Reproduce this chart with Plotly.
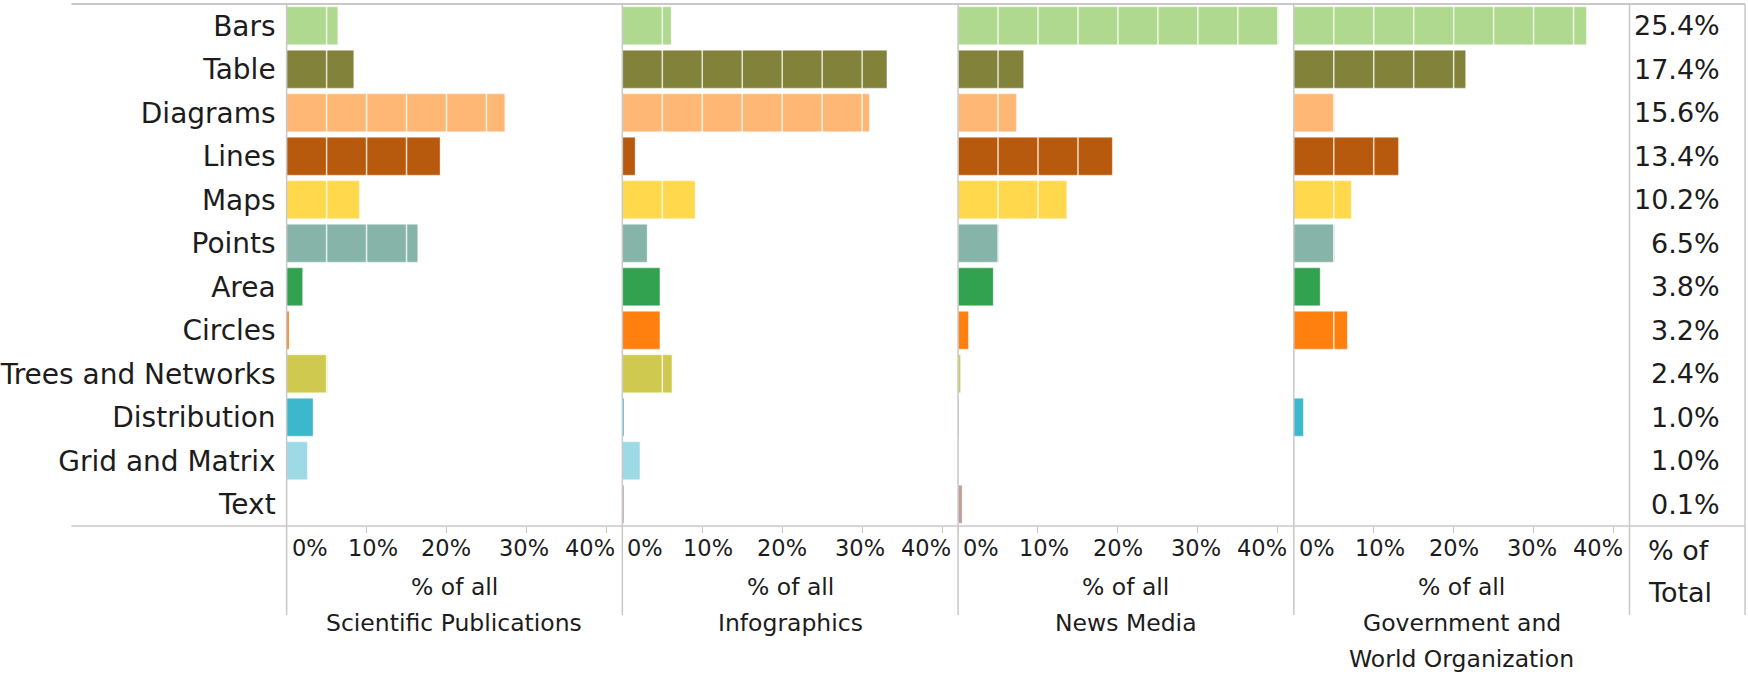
import plotly.graph_objects as go

categories = ["Bars", "Table", "Diagrams", "Lines", "Maps", "Points", "Area",
              "Circles", "Trees and Networks", "Distribution", "Grid and Matrix", "Text"]
colors = ["#aed98e", "#83823b", "#ffb775", "#b85a0d", "#ffd84c", "#86b4a9",
          "#32a251", "#ff7f0f", "#cfca4f", "#3cb7cc", "#9ddae5", "#c49c94"]

scientific = [6.4, 8.4, 27.3, 19.2, 9.1, 16.4, 2.0, 0.3, 5.1, 3.3, 2.6, 0.0]
infographics = [6.1, 33.1, 30.9, 1.6, 9.1, 3.1, 4.7, 4.7, 6.2, 0.2, 2.2, 0.2]
news_media = [40.1, 8.2, 7.3, 19.3, 13.6, 5.1, 4.4, 1.3, 0.3, 0.1, 0.0, 0.5]
government = [36.6, 21.5, 5.1, 13.1, 7.2, 5.1, 3.3, 6.7, 0.0, 1.2, 0.0, 0.0]
total_pct = [25.4, 17.4, 15.6, 13.4, 10.2, 6.5, 3.8, 3.2, 2.4, 1.0, 1.0, 0.1]

panel_titles = [["% of all", "Scientific Publications"],
                ["% of all", "Infographics"],
                ["% of all", "News Media"],
                ["% of all", "Government and", "World Organization"]]
tick_values = [0, 10, 20, 30, 40]
tick_text = ["0%", "10%", "20%", "30%", "40%"]
x_max = 42

W, H = 1748, 678
FONT = "DejaVu Sans"
TXT = "#1c1c1c"
GRID = "#c8c8c8"

def px(x):
    return x / W

def py(y):
    return 1 - y / H

panel_edges = [268, 608, 948, 1288, 1628]
y_top, y_bot = 4, 526

series = [scientific, infographics, news_media, government]

fig = go.Figure()
for i, vals in enumerate(series):
    n = "" if i == 0 else str(i + 1)
    fig.add_trace(go.Bar(
        x=vals, y=categories, orientation="h",
        marker=dict(color=colors, line=dict(color="rgba(255,255,255,0.35)", width=1)),
        width=0.87, xaxis="x" + n, yaxis="y" + n, showlegend=False,
        hoverinfo="x+y"))
    fig.layout["xaxis" + n] = dict(
        domain=[px(panel_edges[i]), px(panel_edges[i + 1])], range=[0, x_max],
        anchor="y" + n, tickvals=tick_values, ticks="outside", ticklen=6,
        tickcolor=GRID, tickwidth=1, showticklabels=False, showgrid=False,
        zeroline=False, showline=False, fixedrange=True)
    fig.layout["yaxis" + n] = dict(
        domain=[py(y_bot), py(y_top)], anchor="x" + n, type="category",
        categoryorder="array", categoryarray=categories, autorange="reversed",
        showticklabels=(i == 0), ticks="", showgrid=False, zeroline=False,
        showline=False, fixedrange=True,
        tickfont=dict(family=FONT, size=28, color=TXT), ticklabelstandoff=10)

    for v, t in zip(tick_values, tick_text):
        if v == 0:
            xa, xs = "left", 3
        elif v == 40:
            xa, xs, v = "right", -5, x_max
        else:
            xa, xs = "center", {10: 6, 20: 0, 30: -2}[v]
        fig.add_annotation(x=v, xref="x" + n, y=py(548), yref="paper",
                           text=t, showarrow=False, xanchor=xa, yanchor="middle",
                           xshift=xs, font=dict(family=FONT, size=22.5, color=TXT))
    for k, line in enumerate(panel_titles[i]):
        fig.add_annotation(x=x_max / 2, xref="x" + n, y=py(587 + 36 * k), yref="paper",
                           text=line, showarrow=False, xanchor="center", yanchor="middle",
                           font=dict(family=FONT, size=23.5, color=TXT))
    for s in range(5, 45, 5):
        fig.add_shape(type="line", xref="x" + n, yref="y" + n + " domain",
                      x0=s, x1=s, y0=0.004, y1=0.996, layer="above",
                      line=dict(color="rgba(255,255,255,0.8)", width=1.5))

for c, v in zip(categories, total_pct):
    fig.add_annotation(x=px(1722), xref="paper", y=c, yref="y", text=f"{v:.1f}%",
                       showarrow=False, xanchor="right", yanchor="middle",
                       font=dict(family=FONT, size=27, color=TXT))
fig.add_annotation(x=px(1645), xref="paper", y=py(550), yref="paper", text="% of",
                   showarrow=False, xanchor="left", yanchor="middle",
                   font=dict(family=FONT, size=27, color=TXT))
fig.add_annotation(x=px(1645), xref="paper", y=py(592), yref="paper", text="Total",
                   showarrow=False, xanchor="left", yanchor="middle",
                   font=dict(family=FONT, size=27, color=TXT))

fig.add_shape(type="line", xref="paper", yref="paper", x0=px(50), x1=px(1745),
              y0=py(y_top), y1=py(y_top), line=dict(color=GRID, width=2))
fig.add_shape(type="line", xref="paper", yref="paper", x0=px(50), x1=px(1745),
              y0=py(y_bot), y1=py(y_bot), line=dict(color=GRID, width=1.5))
for xv in panel_edges + [1745]:
    fig.add_shape(type="line", xref="paper", yref="paper", x0=px(xv), x1=px(xv),
                  y0=py(y_top), y1=py(615), line=dict(color=GRID, width=1.5))

fig.update_layout(width=W, height=H, margin=dict(l=0, r=0, t=0, b=0),
                  paper_bgcolor="white", plot_bgcolor="white", bargap=0.13,
                  font=dict(family=FONT, color=TXT))
fig.write_html("out.html", config={"displayModeBar": False},
               post_script="document.body.style.margin='0';document.body.style.overflow='hidden';")
